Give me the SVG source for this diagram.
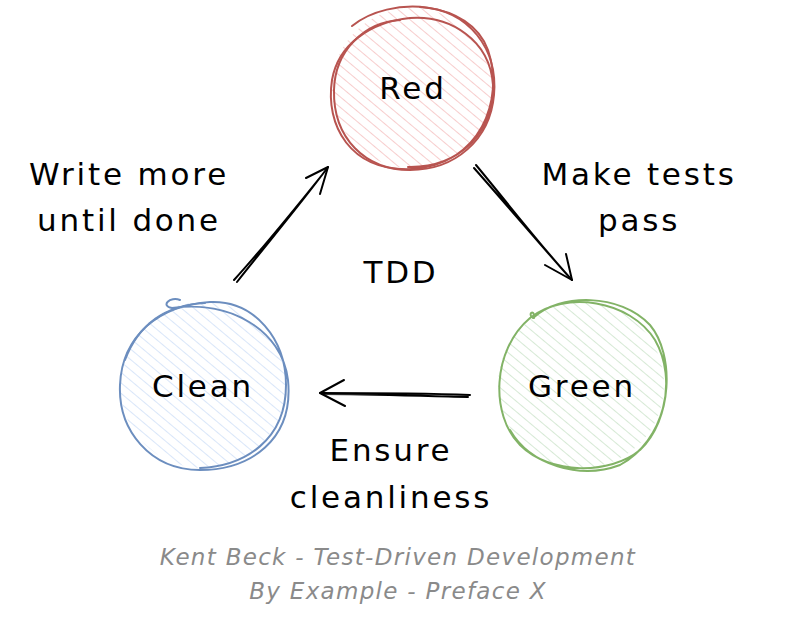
<svg xmlns="http://www.w3.org/2000/svg" width="792" height="626" viewBox="0 0 792 626">
<defs>
<style>
.t{font-family:"DejaVu Sans",sans-serif;font-size:31px;fill:#000;text-anchor:middle;letter-spacing:2.8px}
.f{font-family:"DejaVu Sans",sans-serif;font-size:23px;fill:#8a8a8a;text-anchor:middle;font-style:italic;letter-spacing:1.3px}
.c{fill:none;stroke-width:2;stroke-linecap:round}
.a{fill:none;stroke:#000;stroke-width:2;stroke-linecap:round;stroke-linejoin:round}
</style>
<pattern id="hr" patternUnits="userSpaceOnUse" width="8" height="8" patternTransform="rotate(-50)"><line x1="0" y1="0" x2="0" y2="8" stroke="#f5c0c0" stroke-width="1.6"/></pattern>
<pattern id="hb" patternUnits="userSpaceOnUse" width="8" height="8" patternTransform="rotate(-50)"><line x1="0" y1="0" x2="0" y2="8" stroke="#cfe0f8" stroke-width="1.6"/></pattern>
<pattern id="hg" patternUnits="userSpaceOnUse" width="8" height="8" patternTransform="rotate(-50)"><line x1="0" y1="0" x2="0" y2="8" stroke="#cce4cb" stroke-width="1.6"/></pattern>
</defs>
<rect width="792" height="626" fill="#fff"/>
<g id="red">
<circle cx="412" cy="88" r="80" fill="url(#hr)"/>
<path class="c" stroke="#b85450" d="M352 26 C390 -5 470 0 488 50 C505 100 480 165 412 169 C350 172 325 125 332 80 C338 45 370 22 410 18 C450 15 490 40 493 85 C496 130 460 168 408 167"/>
<path class="c" stroke="#b85450" d="M420 7 C470 10 498 50 494 95 C490 140 455 170 410 170 C365 170 333 138 334 90 C335 50 365 22 400 20"/>
<text class="t" x="413" y="99">Red</text>
</g>
<g id="clean">
<circle cx="203" cy="385" r="83" fill="url(#hb)"/>
<path class="c" stroke="#6c8ebf" d="M180 300 C170 296 160 306 172 308 C230 300 282 330 288 380 C294 440 250 470 200 470 C150 470 118 430 120 385 C122 335 160 305 210 302 C255 300 286 340 286 385 C286 440 245 466 200 468"/>
<path class="c" stroke="#6c8ebf" d="M125 360 C140 320 170 305 205 303"/>
<text class="t" x="203" y="397">Clean</text>
</g>
<g id="green">
<circle cx="581" cy="385" r="83" fill="url(#hg)"/>
<path class="c" stroke="#82b366" d="M533 318 C560 293 620 293 650 325 C675 355 672 420 640 450 C610 475 550 475 520 445 C490 415 492 350 530 318 C565 290 630 300 655 340 C678 380 665 440 620 465 C580 480 530 465 510 430"/>
<path class="c" stroke="#82b366" d="M531 316 C529 312 535 310 534 318"/>
<text class="t" x="582" y="397">Green</text>
</g>
<g id="connectors">
<path class="a" d="M237 282 C262 250 300 205 328 167 M234 280 C265 246 302 200 326 170"/>
<path class="a" d="M306 178 L328 167 L320 194"/>
<path class="a" d="M476 165 C505 200 540 245 572 280 M474 168 C505 203 545 250 570 278"/>
<path class="a" d="M545 265 L572 280 L566 254"/>
<path class="a" d="M470 395 C420 393 370 393 320 393 M468 397 C420 396 370 394 322 394"/>
<path class="a" d="M344 380 L320 393 L345 406"/>
</g>
<g id="labels">
<text class="t" x="129" y="185">Write more</text>
<text class="t" x="129" y="231">until done</text>
<text class="t" x="639" y="185">Make tests</text>
<text class="t" x="639" y="231">pass</text>
<text class="t" x="401" y="283">TDD</text>
<text class="t" x="391" y="461">Ensure</text>
<text class="t" x="391" y="508">cleanliness</text>
<text class="f" x="398" y="565">Kent Beck - Test-Driven Development</text>
<text class="f" x="398" y="599">By Example - Preface X</text>
</g>
</svg>
